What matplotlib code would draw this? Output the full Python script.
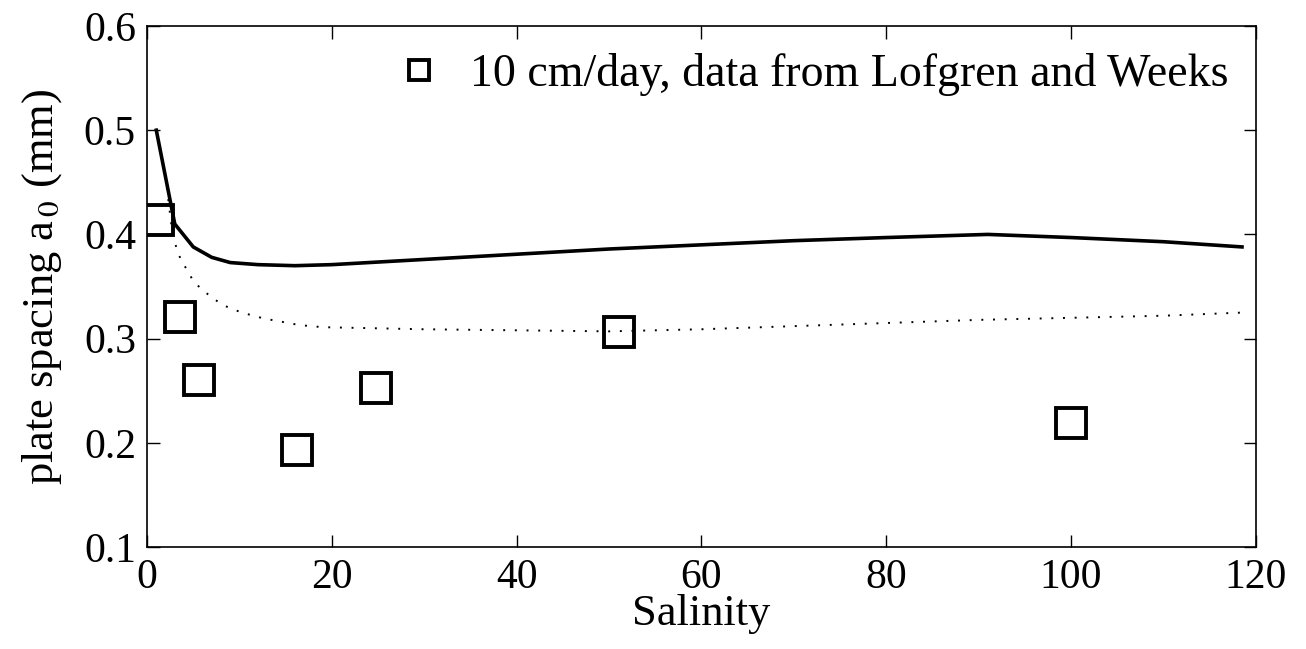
import numpy as np
import matplotlib
matplotlib.use('Agg')
import matplotlib.pyplot as plt

# model curves: plate spacing vs salinity
sal_model = [1, 2, 3, 5, 7, 9, 12, 16, 20, 30, 40, 50, 60, 70, 80, 91, 100, 110, 118.5]
a0_model = [0.500, 0.455, 0.410, 0.388, 0.378, 0.373, 0.371, 0.370, 0.371, 0.376,
            0.381, 0.386, 0.390, 0.394, 0.397, 0.400, 0.397, 0.393, 0.388]

sal_dot = [1, 2, 2.8, 3.6, 4.9, 5.7, 6.8, 7.9, 9.0, 10.3, 11.5, 12.8, 14.1, 16.5, 19,
           30, 40, 50, 60, 70, 80, 90, 100, 110, 118.5]
a0_dot = [0.500, 0.455, 0.397, 0.377, 0.357, 0.349, 0.341, 0.334, 0.329, 0.325, 0.322,
          0.319, 0.317, 0.313, 0.311, 0.309, 0.308, 0.307, 0.309, 0.312, 0.315, 0.318,
          0.320, 0.322, 0.325]

# measurements, 10 cm/day (Lofgren and Weeks)
sal_obs = [1.2, 3.6, 5.6, 16.2, 24.8, 51.1, 100]
a0_obs = [0.414, 0.321, 0.260, 0.193, 0.253, 0.306, 0.219]

plt.rcParams['font.family'] = ['Liberation Serif', 'DejaVu Serif']
plt.rcParams['mathtext.fontset'] = 'stix'

fig = plt.figure(figsize=(13.06, 6.49), dpi=100)
ax = fig.add_axes([0.1126, 0.157, 0.849, 0.803])

ax.plot(sal_model, a0_model, color='black', lw=2.6)
ax.plot(sal_dot, a0_dot, color='black', lw=1.4, linestyle=(0, (1, 5)))
ax.plot(sal_obs, a0_obs, linestyle='none', marker='s', markersize=21,
        markerfacecolor='none', markeredgecolor='black', markeredgewidth=2.8,
        label='10 cm/day, data from Lofgren and Weeks')

ax.set_xlim(0, 120)
ax.set_ylim(0.1, 0.6)
ax.set_xticks([0, 20, 40, 60, 80, 100, 120])
ax.set_yticks([0.1, 0.2, 0.3, 0.4, 0.5, 0.6])
ax.tick_params(direction='in', top=True, right=True, length=9, width=1,
               labelsize=30, pad=8)
for s in ax.spines.values():
    s.set_linewidth(1.2)

ax.set_xlabel('Salinity', fontsize=32, labelpad=-2)
ax.set_ylabel('plate spacing a$_{\\,0}$ (mm)', fontsize=32, labelpad=14)

ax.legend(loc='upper right', frameon=False, fontsize=33, markerscale=0.68,
          handlelength=1.0, handletextpad=0.6, borderaxespad=0.2)

fig.savefig('out.png', dpi=100)
